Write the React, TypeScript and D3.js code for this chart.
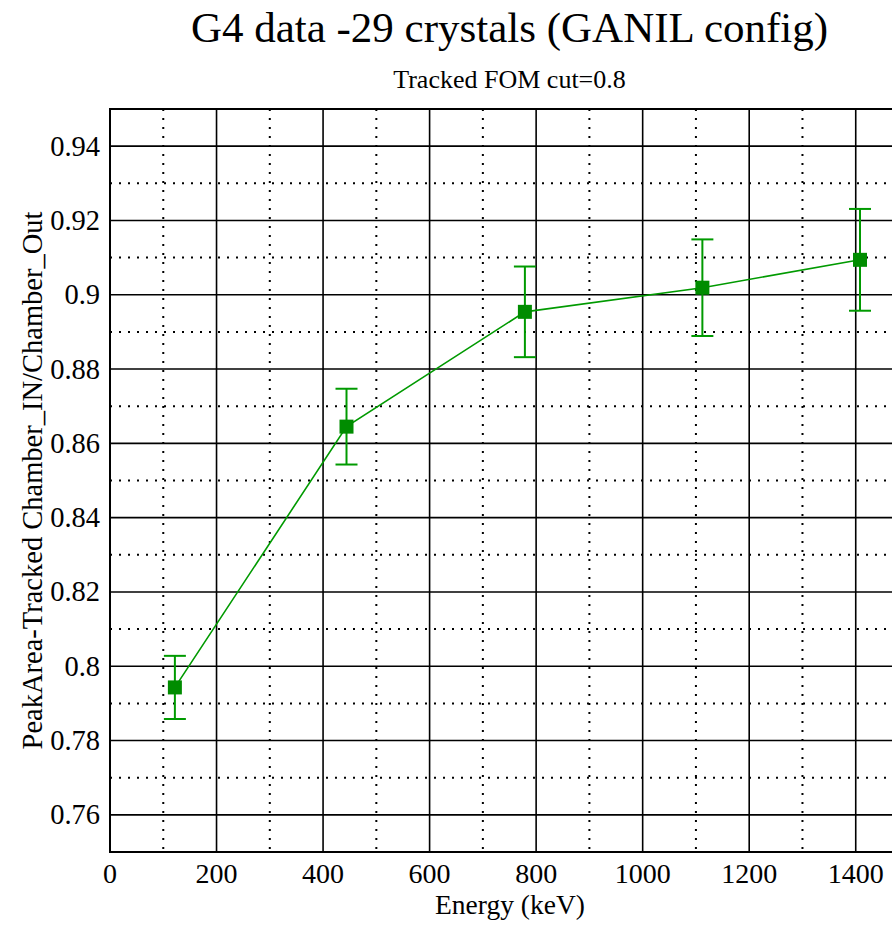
import React from "react";
import * as d3 from "d3";

const energies = [121.8, 444.0, 778.9, 1112.1, 1408.0];
const ratios = [0.7943, 0.8645, 0.8954, 0.9019, 0.9094];
const errors = [0.0085, 0.0102, 0.0122, 0.013, 0.0137];
const xTicks = [0, 200, 400, 600, 800, 1000, 1200, 1400];
const xMinor = [100, 300, 500, 700, 900, 1100, 1300, 1500];
const yTicks = [0.76, 0.78, 0.8, 0.82, 0.84, 0.86, 0.88, 0.9, 0.92, 0.94];
const yMinor = [0.75, 0.77, 0.79, 0.81, 0.83, 0.85, 0.87, 0.89, 0.91, 0.93, 0.95];

const W = 892;
const H = 925;
const left = 110;
const right = 909;
const top = 109;
const bottom = 852;
const FONT = "'Liberation Serif', 'DejaVu Serif', serif";
const GREEN = "#009a00";

export default function App() {
  const x = d3.scaleLinear().domain([0, 1500]).range([left, right]);
  const y = d3.scaleLinear().domain([0.75, 0.95]).range([bottom, top]);
  const pts = energies.map((e, i) => ({ e, v: ratios[i], err: errors[i] }));
  const line = d3
    .line<{ e: number; v: number }>()
    .x((d) => x(d.e))
    .y((d) => y(d.v));
  const fmt = (v: number) => String(+v.toFixed(2));
  const ms = 14;
  const cap = 11;

  return (
    <div style={{ position: "absolute", left: 0, top: 0 }}>
      <svg width={W} height={H} style={{ display: "block", background: "#fff" }}>
        <rect x={0} y={0} width={W} height={H} fill="#fff" />
        {/* minor dotted grid */}
        {xMinor.map((t) => (
          <line
            key={"xm" + t}
            x1={x(t)}
            x2={x(t)}
            y1={top}
            y2={bottom}
            stroke="#000"
            strokeWidth={2}
            strokeDasharray="2 7"
          />
        ))}
        {yMinor.map((t) => (
          <line
            key={"ym" + t}
            x1={left}
            x2={right}
            y1={y(t)}
            y2={y(t)}
            stroke="#000"
            strokeWidth={2}
            strokeDasharray="2 7"
          />
        ))}
        {/* major grid */}
        {xTicks.map((t) => (
          <line
            key={"xg" + t}
            x1={x(t)}
            x2={x(t)}
            y1={top}
            y2={bottom}
            stroke="#000"
            strokeWidth={1.6}
          />
        ))}
        {yTicks.map((t) => (
          <line
            key={"yg" + t}
            x1={left}
            x2={right}
            y1={y(t)}
            y2={y(t)}
            stroke="#000"
            strokeWidth={1.6}
          />
        ))}
        <rect
          x={left}
          y={top}
          width={right - left}
          height={bottom - top}
          fill="none"
          stroke="#000"
          strokeWidth={2}
        />
        {/* tick labels */}
        {xTicks.map((t) => (
          <text
            key={"xl" + t}
            x={x(t)}
            y={883}
            textAnchor="middle"
            fontFamily={FONT}
            fontSize={28}
            fill="#000"
          >
            {t}
          </text>
        ))}
        {yTicks.map((t) => (
          <text
            key={"yl" + t}
            x={100}
            y={y(t) + 9.5}
            textAnchor="end"
            fontFamily={FONT}
            fontSize={28.5}
            fill="#000"
          >
            {fmt(t)}
          </text>
        ))}
        {/* data */}
        <path d={line(pts) || ""} fill="none" stroke={GREEN} strokeWidth={1.6} />
        {pts.map((p, i) => (
          <g key={"p" + i}>
            <line
              x1={x(p.e)}
              x2={x(p.e)}
              y1={y(p.v + p.err)}
              y2={y(p.v - p.err)}
              stroke={GREEN}
              strokeWidth={2}
            />
            <line
              x1={x(p.e) - cap}
              x2={x(p.e) + cap}
              y1={y(p.v + p.err)}
              y2={y(p.v + p.err)}
              stroke={GREEN}
              strokeWidth={2}
            />
            <line
              x1={x(p.e) - cap}
              x2={x(p.e) + cap}
              y1={y(p.v - p.err)}
              y2={y(p.v - p.err)}
              stroke={GREEN}
              strokeWidth={2}
            />
            <rect
              x={x(p.e) - ms / 2}
              y={y(p.v) - ms / 2}
              width={ms}
              height={ms}
              fill="#008c00"
            />
          </g>
        ))}
        {/* titles */}
        <text
          x={(left + right) / 2}
          y={42}
          textAnchor="middle"
          fontFamily={FONT}
          fontSize={43}
          fill="#000"
        >
          G4 data -29 crystals (GANIL config)
        </text>
        <text
          x={(left + right) / 2}
          y={88}
          textAnchor="middle"
          fontFamily={FONT}
          fontSize={26}
          fill="#000"
        >
          Tracked FOM cut=0.8
        </text>
        <text
          x={510}
          y={914}
          textAnchor="middle"
          fontFamily={FONT}
          fontSize={27.5}
          fill="#000"
        >
          Energy (keV)
        </text>
        <text
          transform={`translate(42, ${(top + bottom) / 2}) rotate(-90)`}
          textAnchor="middle"
          fontFamily={FONT}
          fontSize={28.5}
          fill="#000"
        >
          PeakArea-Tracked Chamber_IN/Chamber_Out
        </text>
      </svg>
    </div>
  );
}
